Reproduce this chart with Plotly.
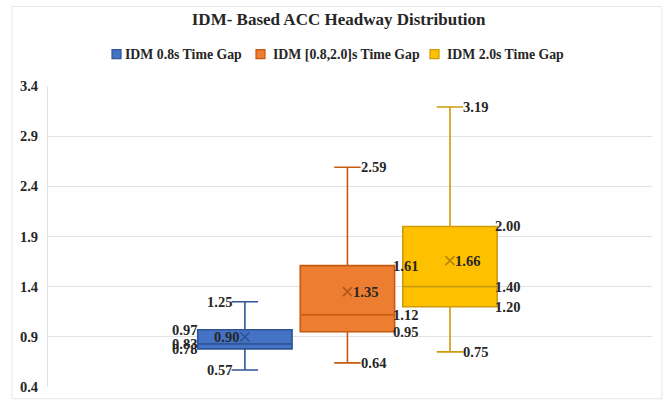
import plotly.graph_objects as go

names = ["IDM 0.8s Time Gap", "IDM [0.8,2.0]s Time Gap", "IDM 2.0s Time Gap"]
mins = [0.57, 0.64, 0.75]
q1s = [0.78, 0.95, 1.20]
medians = [0.83, 1.12, 1.40]
q3s = [0.97, 1.61, 2.00]
maxs = [1.25, 2.59, 3.19]
means = [0.90, 1.35, 1.66]
y_ticks = [0.4, 0.9, 1.4, 1.9, 2.4, 2.9, 3.4]

fills = ["#4472C4", "#ED7D31", "#FFC000"]
lines = ["#2F5597", "#C55A11", "#CC9C0A"]
means_col = ["#2F5597", "#B4571A", "#B8860B"]

FONT = "Liberation Serif"
TXT = "#262626"
W_BOX = 0.92

# plot area in pixels (for converting legend placement to paper coords)
L, R, T, B = 48, 652, 86, 393
def px(x):
    return (x - L) / (R - L)
def py(y):
    return (B - y) / (B - T)

fig = go.Figure()
for i, n in enumerate(names):
    fig.add_trace(go.Box(
        name=n, x=[i], q1=[q1s[i]], median=[medians[i]], q3=[q3s[i]],
        lowerfence=[mins[i]], upperfence=[maxs[i]],
        width=W_BOX, whiskerwidth=0.28,
        fillcolor=fills[i], line=dict(color=lines[i], width=1.6),
        boxpoints=False, hoverinfo="skip", showlegend=False,
    ))
for i, n in enumerate(names):
    fig.add_trace(go.Scatter(
        x=[i], y=[means[i]], mode="markers", showlegend=False,
        marker=dict(symbol="x-thin", size=9, line=dict(color=means_col[i], width=1.6)),
        hoverinfo="skip",
    ))

ann = []
def lab(x, y, v, anchor):
    ann.append(dict(x=x, y=y, text=f"{v:.2f}", showarrow=False, xanchor=anchor,
                    yanchor="middle", font=dict(family=FONT, size=14.5, color=TXT, weight=700)))

cap = 0.11
half = W_BOX / 2
for i in range(3):
    if i == 0:
        lab(i - cap, maxs[i], maxs[i], "right")
        lab(i - cap, mins[i], mins[i], "right")
        lab(i - half + 0.01, q3s[i], q3s[i], "right")
        lab(i - half + 0.01, medians[i], medians[i], "right")
        lab(i - half + 0.01, q1s[i], q1s[i], "right")
        lab(i - 0.04, means[i], means[i], "right")
    else:
        lab(i + cap, maxs[i], maxs[i], "left")
        lab(i + cap, mins[i], mins[i], "left")
        lab(i + half - 0.04, q3s[i], q3s[i], "left")
        lab(i + half - 0.04, medians[i], medians[i], "left")
        lab(i + half - 0.04, q1s[i], q1s[i], "left")
        lab(i + 0.03, means[i], means[i], "left")

# custom legend (squares + text)
legend_sq_x = [112, 256, 430]
legend_tx_x = [123, 271, 445]
shapes = [dict(type="rect", xref="paper", yref="paper",
               x0=px(12), x1=px(662), y0=py(405), y1=py(5),
               line=dict(color="#E6E6E6", width=1), layer="below")]
for i, n in enumerate(names):
    shapes.append(dict(type="rect", xref="paper", yref="paper",
                       x0=px(legend_sq_x[i]), x1=px(legend_sq_x[i] + 9),
                       y0=py(58), y1=py(49),
                       fillcolor=fills[i], line=dict(color=lines[i], width=1.2)))
    ann.append(dict(x=px(legend_tx_x[i]), y=py(54), xref="paper", yref="paper",
                    text=n, showarrow=False, xanchor="left", yanchor="middle",
                    font=dict(family=FONT, size=13.8, color=TXT, weight=700)))

fig.update_layout(
    width=664, height=407,
    margin=dict(l=L, r=664 - R, t=T, b=407 - B),
    paper_bgcolor="white", plot_bgcolor="white",
    title=dict(text="IDM- Based ACC Headway Distribution", x=0.51, xref="container",
               y=1 - 19 / 407, yref="container", yanchor="middle", xanchor="center",
               font=dict(family=FONT, size=17, color=TXT, weight=700)),
    showlegend=False,
    xaxis=dict(range=[-1.92, 3.97], showticklabels=False, showgrid=False,
               zeroline=False, ticks="", fixedrange=True),
    yaxis=dict(range=[0.4, 3.4], tickvals=y_ticks, ticktext=[f"{t:.1f}" for t in y_ticks],
               showgrid=True, gridcolor="#E3E3E3", gridwidth=1, zeroline=False,
               showline=True, linecolor="#E3E3E3", ticks="", ticklabelstandoff=6,
               tickfont=dict(family=FONT, size=14.5, color=TXT, weight=700)),
    annotations=ann,
    shapes=shapes,
)
fig.write_html("out.html")
